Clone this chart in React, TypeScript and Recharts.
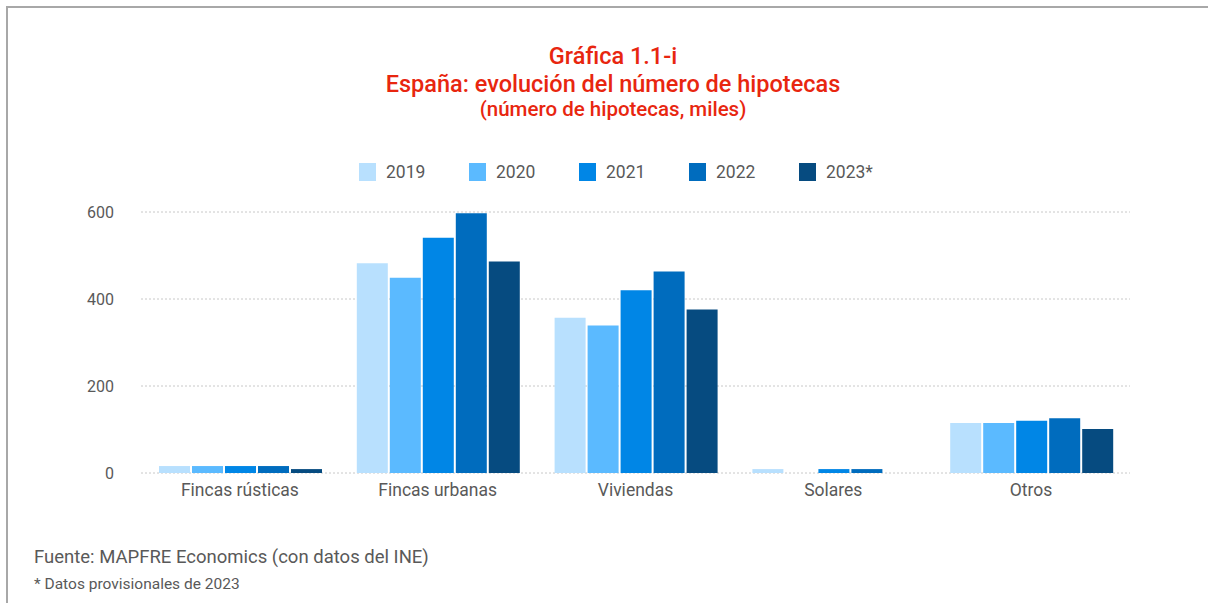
import { BarChart, Bar, XAxis, YAxis, CartesianGrid } from 'recharts'

const categories = ['Fincas rústicas', 'Fincas urbanas', 'Viviendas', 'Solares', 'Otros']
const years = ['2019', '2020', '2021', '2022', '2023*']
const colors = ['#b8e0fe', '#5bbaff', '#0086e6', '#006cbe', '#064b80']

const v2019 = [16, 482, 357, 9, 115]
const v2020 = [16, 449, 339, 0, 115]
const v2021 = [16, 541, 420, 9, 120]
const v2022 = [16, 597, 463, 9, 126]
const v2023 = [9, 486, 376, 0, 101]

const yTicks = [0, 200, 400, 600]

const series = [v2019, v2020, v2021, v2022, v2023]
const chartData = categories.map((name, i) => {
  const row: Record<string, string | number> = { name }
  years.forEach((y, k) => {
    row[y] = series[k][i]
  })
  return row
})

const FONT = 'Roboto, "DejaVu Sans", sans-serif'
const GREY = '#595959'
const RED = '#e8260f'

function LegendRow() {
  return (
    <div style={{ position: 'absolute', left: 359, top: 162, display: 'flex' }}>
      {years.map((y, i) => (
        <div key={y} style={{ display: 'flex', alignItems: 'center', width: 110 }}>
          <span style={{ display: 'inline-block', width: 17, height: 18, background: colors[i], marginRight: 10 }} />
          <span style={{ fontSize: 17.5, color: GREY }}>{y}</span>
        </div>
      ))}
    </div>
  )
}

export default function App() {
  return (
    <div style={{ position: 'absolute', left: 0, top: 0, width: 1208, height: 603, background: '#fff', fontFamily: FONT, overflow: 'hidden' }}>
      <div style={{ position: 'absolute', left: 6, top: 6, width: 1210, height: 610, borderTop: '2px solid #a8a8a8', borderLeft: '2px solid #a8a8a8' }} />
      <div style={{ position: 'absolute', left: 0, width: 1226, top: 45, textAlign: 'center', color: RED, lineHeight: 1, fontWeight: 500 }}>
        <div style={{ fontSize: 23.5, height: 28 }}>Gráfica 1.1-i</div>
        <div style={{ fontSize: 23.5, height: 26 }}>España: evolución del número de hipotecas</div>
        <div style={{ fontSize: 20.5 }}>(número de hipotecas, miles)</div>
      </div>
      <LegendRow />
      <div style={{ position: 'absolute', left: 0, top: 0 }}>
        <BarChart
          width={1208}
          height={603}
          data={chartData}
          margin={{ top: 212, right: 78, bottom: 100, left: 0 }}
          barCategoryGap={18}
          barGap={2}
        >
          <CartesianGrid vertical={false} stroke="#c8c8c8" strokeDasharray="2 2" />
          <XAxis
            dataKey="name"
            height={30}
            axisLine={false}
            tickLine={false}
            tickSize={0}
            tickMargin={11}
            tick={{ fontSize: 17.5, fill: GREY, fontFamily: FONT }}
          />
          <YAxis
            width={141}
            domain={[0, 600]}
            ticks={yTicks}
            axisLine={false}
            tickLine={false}
            tickSize={0}
            tickMargin={27}
            tick={{ fontSize: 16, fill: GREY, fontFamily: FONT }}
          />
          {years.map((y, i) => (
            <Bar key={y} dataKey={y} fill={colors[i]} isAnimationActive={false} />
          ))}
        </BarChart>
      </div>
      <div style={{ position: 'absolute', left: 34, top: 546, fontSize: 18.5, color: GREY }}>
        Fuente: MAPFRE Economics (con datos del INE)
      </div>
      <div style={{ position: 'absolute', left: 34, top: 575, fontSize: 15.5, color: GREY }}>
        * Datos provisionales de 2023
      </div>
    </div>
  )
}
